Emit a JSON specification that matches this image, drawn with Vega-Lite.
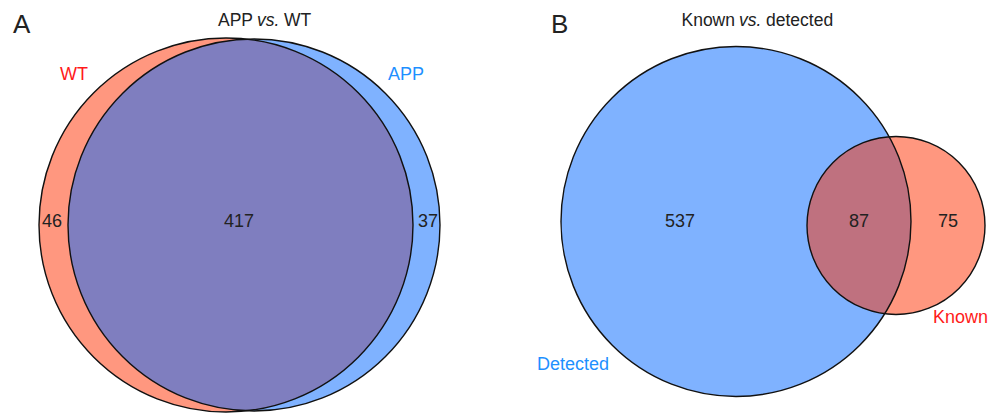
{
  "$schema": "https://vega.github.io/schema/vega-lite/v6.json",
  "width": 992,
  "height": 415,
  "autosize": {"type": "fit", "contains": "padding"},
  "padding": 0,
  "background": "white",
  "config": {"view": {"stroke": null}, "font": "Liberation Sans"},
  "datasets": {
    "circles": [
      {"set": "WT", "cx": 226, "cy": 225.5, "r": 187, "ord": 1},
      {"set": "APP", "cx": 254, "cy": 225.5, "r": 186, "ord": 2},
      {"set": "Detected", "cx": 736, "cy": 222, "r": 175, "ord": 3},
      {"set": "Known", "cx": 896, "cy": 226, "r": 89, "ord": 4}
    ],
    "counts": [
      {"n": "46", "x": 52, "y": 223},
      {"n": "417", "x": 239, "y": 223},
      {"n": "37", "x": 428, "y": 223},
      {"n": "537", "x": 680, "y": 223},
      {"n": "87", "x": 859, "y": 223},
      {"n": "75", "x": 948, "y": 223}
    ],
    "setlabels": [
      {"label": "WT", "set": "WT", "x": 60, "y": 80},
      {"label": "APP", "set": "APP", "x": 388, "y": 80},
      {"label": "Detected", "set": "Detected", "x": 537, "y": 371},
      {"label": "Known", "set": "Known", "x": 933, "y": 324}
    ],
    "titleright": [
      {"t": "APP", "x": 253, "y": 26},
      {"t": "Known", "x": 735, "y": 26}
    ],
    "titleleft": [
      {"t": "WT", "x": 284, "y": 26},
      {"t": "detected", "x": 766, "y": 26}
    ],
    "titleitalic": [
      {"t": "vs.", "x": 257, "y": 26},
      {"t": "vs.", "x": 739, "y": 26}
    ],
    "letters": [
      {"t": "A", "x": 13, "y": 33},
      {"t": "B", "x": 551, "y": 33}
    ]
  },
  "layer": [
    {
      "data": {"name": "circles"},
      "mark": {"type": "point", "shape": "circle", "filled": true, "opacity": 1, "fillOpacity": 0.5, "strokeWidth": 0},
      "encoding": {
        "x": {"field": "cx", "type": "quantitative", "scale": {"domain": [0, 992], "nice": false, "zero": false}, "axis": null},
        "y": {"field": "cy", "type": "quantitative", "scale": {"domain": [0, 415], "nice": false, "zero": false, "reverse": true}, "axis": null},
        "size": {"field": "r", "type": "quantitative", "scale": {"type": "pow", "exponent": 2, "domain": [0, 496], "range": [0, 984064]}, "legend": null},
        "color": {"field": "set", "type": "nominal", "scale": {"domain": ["WT", "APP", "Detected", "Known"], "range": ["#FF3000", "#0066FF", "#0066FF", "#FF3000"]}, "legend": null},
        "order": {"field": "ord", "type": "quantitative"}
      }
    },
    {
      "data": {"name": "circles"},
      "mark": {"type": "point", "shape": "circle", "filled": false, "opacity": 1, "stroke": "#111111", "strokeWidth": 1.4},
      "encoding": {
        "x": {"field": "cx", "type": "quantitative"},
        "y": {"field": "cy", "type": "quantitative"},
        "size": {"field": "r", "type": "quantitative"}
      }
    },
    {
      "data": {"name": "counts"},
      "mark": {"type": "text", "fontSize": 18, "color": "#222222", "align": "center", "baseline": "middle"},
      "encoding": {
        "x": {"field": "x", "type": "quantitative"},
        "y": {"field": "y", "type": "quantitative"},
        "text": {"field": "n"}
      }
    },
    {
      "data": {"name": "setlabels"},
      "mark": {"type": "text", "fontSize": 18, "align": "left", "baseline": "alphabetic"},
      "encoding": {
        "x": {"field": "x", "type": "quantitative"},
        "y": {"field": "y", "type": "quantitative"},
        "text": {"field": "label"},
        "fill": {"field": "set", "type": "nominal", "scale": {"domain": ["WT", "APP", "Detected", "Known"], "range": ["#FF1A1A", "#1E90FF", "#1E90FF", "#FF1A1A"]}, "legend": null}
      }
    },
    {
      "data": {"name": "titleright"},
      "mark": {"type": "text", "fontSize": 17.5, "color": "#222222", "align": "right", "baseline": "alphabetic"},
      "encoding": {
        "x": {"field": "x", "type": "quantitative"},
        "y": {"field": "y", "type": "quantitative"},
        "text": {"field": "t"}
      }
    },
    {
      "data": {"name": "titleleft"},
      "mark": {"type": "text", "fontSize": 17.5, "color": "#222222", "align": "left", "baseline": "alphabetic"},
      "encoding": {
        "x": {"field": "x", "type": "quantitative"},
        "y": {"field": "y", "type": "quantitative"},
        "text": {"field": "t"}
      }
    },
    {
      "data": {"name": "titleitalic"},
      "mark": {"type": "text", "fontSize": 17.5, "fontStyle": "italic", "color": "#222222", "align": "left", "baseline": "alphabetic"},
      "encoding": {
        "x": {"field": "x", "type": "quantitative"},
        "y": {"field": "y", "type": "quantitative"},
        "text": {"field": "t"}
      }
    },
    {
      "data": {"name": "letters"},
      "mark": {"type": "text", "fontSize": 26, "color": "#222222", "align": "left", "baseline": "alphabetic"},
      "encoding": {
        "x": {"field": "x", "type": "quantitative"},
        "y": {"field": "y", "type": "quantitative"},
        "text": {"field": "t"}
      }
    }
  ]
}
